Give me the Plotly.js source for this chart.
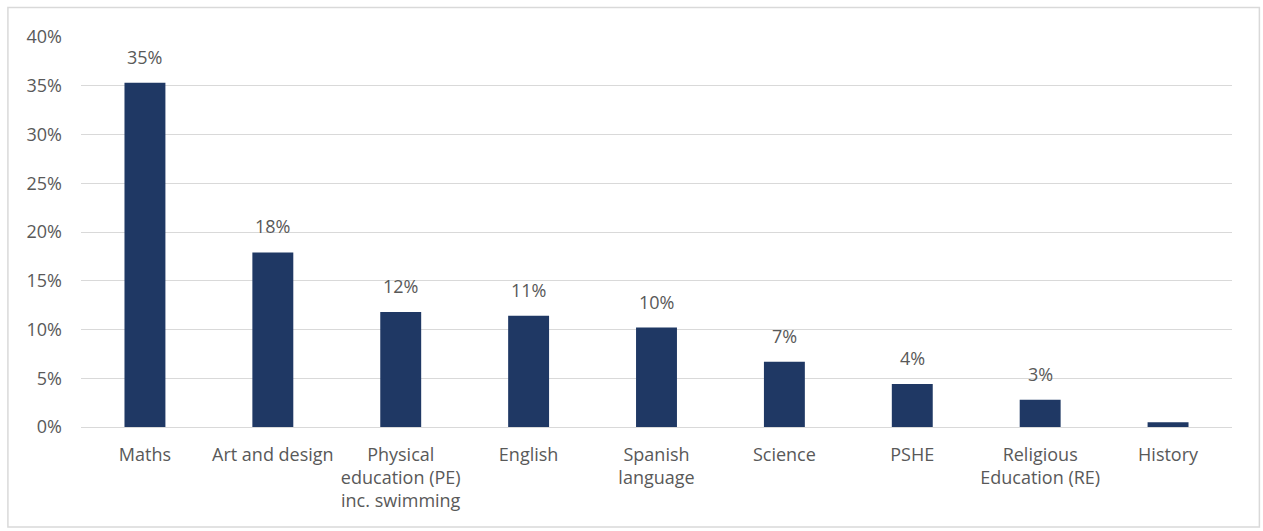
<!DOCTYPE html>
<html>
<head>
<meta charset="utf-8">
<script src="https://cdn.plot.ly/plotly-3.0.1.min.js"></script>
<style>
html,body{margin:0;padding:0;background:#fff;}
#chart{width:1263px;height:531px;}
</style>
</head>
<body>
<div id="chart"></div>
<script>
const categories = ["Maths", "Art and design", "Physical<br>education (PE)<br>inc. swimming", "English", "Spanish<br>language", "Science", "PSHE", "Religious<br>Education (RE)", "History"];
const values = [35.3, 17.9, 11.8, 11.4, 10.2, 6.7, 4.4, 2.8, 0.5];
const labels = ["35%", "18%", "12%", "11%", "10%", "7%", "4%", "3%", ""];
const yTickVals = [0, 5, 10, 15, 20, 25, 30, 35, 40];
const yTickText = ["0%", "5%", "10%", "15%", "20%", "25%", "30%", "35%", "40%"];

const FONT = "'Open Sans', sans-serif";
const GRAY = "#595959";

const trace = {
  type: "bar",
  x: categories,
  y: values,
  marker: {color: "#1F3864"},
  hoverinfo: "skip"
};

const annotations = categories.map((c, i) => ({
  x: c, y: values[i], xref: "x", yref: "y",
  text: labels[i], showarrow: false,
  yanchor: "bottom", yshift: 12,
  font: {family: FONT, size: 18, color: GRAY}
}));

const layout = {
  width: 1263, height: 531,
  margin: {l: 81, r: 31, t: 37, b: 104},
  paper_bgcolor: "#fff", plot_bgcolor: "#fff",
  showlegend: false,
  bargap: 0.68,
  font: {family: FONT, size: 18, color: GRAY},
  xaxis: {
    type: "category",
    showgrid: false,
    showline: true, linecolor: "#d9d9d9", linewidth: 1,
    ticks: "", ticklabelstandoff: 11,
    tickfont: {family: FONT, size: 18, color: GRAY},
    fixedrange: true
  },
  yaxis: {
    range: [0, 40],
    tickvals: yTickVals, ticktext: yTickText,
    showgrid: true, gridcolor: "#d9d9d9", gridwidth: 1,
    zeroline: false, showline: false,
    ticks: "", ticklabelstandoff: 18,
    tickfont: {family: FONT, size: 18, color: GRAY},
    fixedrange: true
  },
  annotations: annotations,
  shapes: [{
    type: "rect", xref: "paper", yref: "paper",
    x0: -0.0635, x1: 1.0238, y0: -0.2564, y1: 1.0756,
    line: {color: "#d9d9d9", width: 1.5}, fillcolor: "rgba(0,0,0,0)"
  }]
};

Plotly.newPlot("chart", [trace], layout, {staticPlot: true, displayModeBar: false});
</script>
</body>
</html>
